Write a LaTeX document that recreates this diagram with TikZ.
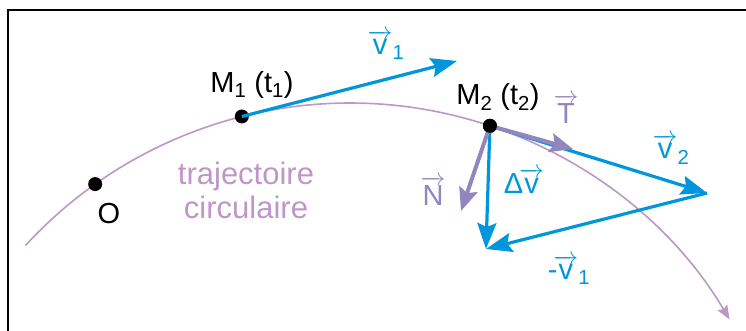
\documentclass[tikz,border=0pt]{standalone}
\usepackage{amsmath}
\usepackage{fontspec}
\setmainfont{Liberation Sans}
\usepackage{xcolor}
\usetikzlibrary{arrows.meta, positioning, calc}
\definecolor{vitesse}{RGB}{0,150,219}
\definecolor{repere}{RGB}{146,134,190}
\definecolor{traj}{RGB}{190,150,200}

\begin{document}
\begin{tikzpicture}[
    x=1pt, y=-1pt,
    point/.style={circle, fill=black, inner sep=0pt, minimum size=14pt},
    lbl/.style={font=\fontsize{29}{33}\selectfont, inner sep=0pt},
    vlbl/.style={lbl, text=vitesse},
    plbl/.style={lbl, text=repere},
    vitvec/.style={line width=3.2pt, vitesse, -{Stealth[length=26pt, width=19pt, inset=4pt]}},
    repvec/.style={line width=4pt, repere, -{Stealth[length=23pt, width=19pt, inset=4pt]}},
]
\useasboundingbox (0,0) rectangle (746,331);
\draw[line width=2pt] (8,331) -- (8,10) -- (746,10);

\coordinate (centre) at (350,544);
\draw[traj, line width=1.6pt, -{Stealth[length=14pt, width=11pt, inset=2pt]}]
    ([shift={(-137.4:441)}]centre) arc[start angle=-137.4, end angle=-30.6, radius=441];

\node[point] (o) at ([shift={(-125.3:441)}]centre) {};
\node[point] (m1) at ([shift={(-104.2:441)}]centre) {};
\node[point] (m2) at ([shift={(-71.5:441)}]centre) {};
\coordinate (v1tip) at (457,61);
\coordinate (v2tip) at (707,193);
\coordinate (ttip) at (573,149);
\coordinate (ntip) at (461,211);
\coordinate (dvtip) at (486,249);

\draw[vitvec] (m1.center) -- (v1tip);
\draw[vitvec] (m2.center) -- (v2tip);
\draw[vitvec] (m2.center) -- (dvtip);
\draw[vitvec] (v2tip) -- (dvtip);
\draw[repvec] (m2.center) -- (ttip);
\draw[repvec] (m2.center) -- (ntip);
\node[point] at (m2) {};

\node[lbl] (o-lbl) at (109,214) {O};
\node[lbl] (m1-lbl) at (252,85) {M\textsubscript{1} (t\textsubscript{1})};
\node[lbl] (m2-lbl) at (498,97) {M\textsubscript{2} (t\textsubscript{2})};
\node[lbl, text=traj, align=center, font=\fontsize{31}{34}\selectfont] (traj-lbl) at (246,190) {trajectoire\\circulaire};
\node[vlbl] (v1-lbl) at (386,45) {$\overrightarrow{\text{v}}_{\text{1}}$};
\node[vlbl] (v2-lbl) at (671,149) {$\overrightarrow{\text{v}}_{\text{2}}$};
\node[vlbl] (dv-lbl) at (524,181) {Δ$\!\overrightarrow{\text{v}}$};
\node[vlbl] (mv1-lbl) at (569,270) {-$\!\overrightarrow{\text{v}}_{\text{1}}$};
\node[plbl] (t-lbl) at (566,109) {$\overrightarrow{\text{T}}$};
\node[plbl] (n-lbl) at (433,191) {$\overrightarrow{\text{N}}$};
\end{tikzpicture}
\end{document}
